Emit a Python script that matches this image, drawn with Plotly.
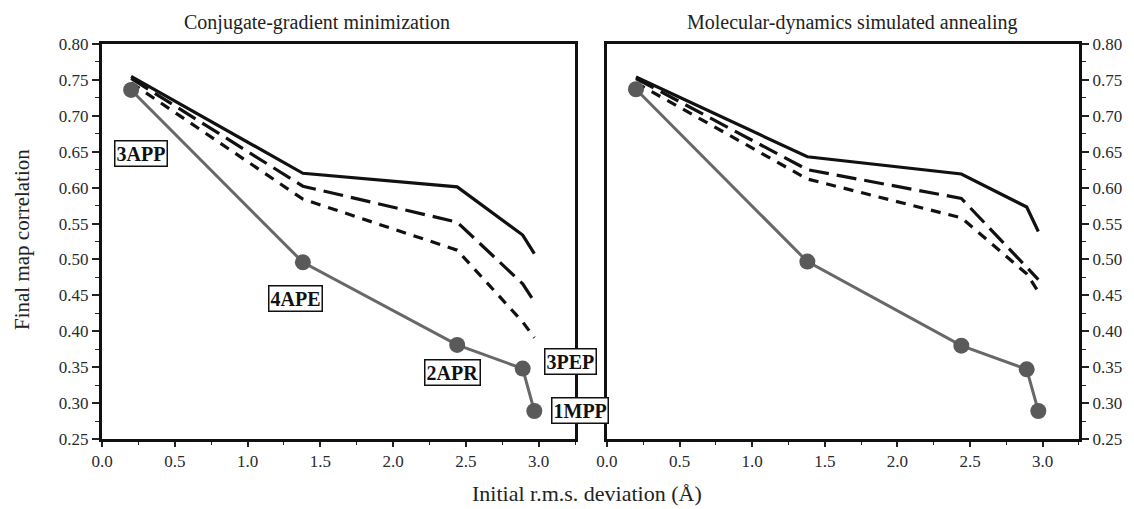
import plotly.graph_objects as go

# ---- data ----
rmsd = [0.20, 1.38, 2.44, 2.89, 2.97]
proteins = ["3APP", "4APE", "2APR", "3PEP", "1MPP"]

cg_model = [0.736, 0.496, 0.381, 0.348, 0.289]
cg_solid = [0.755, 0.620, 0.601, 0.534, 0.508]
cg_long = [0.752, 0.602, 0.552, 0.466, 0.441]
cg_short = [0.746, 0.584, 0.513, 0.413, 0.391]

md_model = [0.737, 0.497, 0.380, 0.347, 0.289]
md_solid = [0.754, 0.643, 0.619, 0.573, 0.539]
md_long = [0.752, 0.625, 0.585, 0.490, 0.472]
md_short = [0.746, 0.612, 0.558, 0.480, 0.455]

label_x = [0.27, 1.33, 2.41, 3.22, 3.24]
label_y = [0.647, 0.445, 0.342, 0.358, 0.289]

panel_titles = ["Conjugate-gradient minimization", "Molecular-dynamics simulated annealing"]
x_ticks = [0.0, 0.5, 1.0, 1.5, 2.0, 2.5, 3.0]
y_ticks = [0.25, 0.30, 0.35, 0.40, 0.45, 0.50, 0.55, 0.60, 0.65, 0.70, 0.75, 0.80]

FONT = "Liberation Serif"
GRAY_LINE = "#686868"
GRAY_MARK = "#5a5a5a"
BLACK = "#111111"

fig = go.Figure()

def add_panel(xa, ya, model, solid, longd, shortd):
    fig.add_trace(go.Scatter(x=rmsd, y=shortd, xaxis=xa, yaxis=ya, mode="lines",
                             line=dict(color=BLACK, width=3.2, dash="10px,8px"), showlegend=False))
    fig.add_trace(go.Scatter(x=rmsd, y=longd, xaxis=xa, yaxis=ya, mode="lines",
                             line=dict(color=BLACK, width=3.2, dash="20px,8px"), showlegend=False))
    fig.add_trace(go.Scatter(x=rmsd, y=solid, xaxis=xa, yaxis=ya, mode="lines",
                             line=dict(color=BLACK, width=3.2), showlegend=False))
    fig.add_trace(go.Scatter(x=rmsd, y=model, xaxis=xa, yaxis=ya, mode="lines+markers",
                             line=dict(color=GRAY_LINE, width=3),
                             marker=dict(color=GRAY_MARK, size=16), showlegend=False))

add_panel("x", "y", cg_model, cg_solid, cg_long, cg_short)
add_panel("x2", "y2", md_model, md_solid, md_long, md_short)

# page has an 8px body offset; figure sized to fill the rest of the window
OFF = 8
W, H = 1134 - OFF, 509 - OFF
ml, mr, mt, mb = 102 - OFF, 1134 - 1085, 44 - OFF, 509 - 439
pw = W - ml - mr
ph = H - mt - mb
d1 = (578 - 102) / pw
d2 = (610 - 102) / pw

def px_to_paper_x(px):
    return (px - 102) / pw

tickfont = dict(family=FONT, size=17, color="#2a2a2a")
common_x = dict(range=[0, 3.25], tickvals=x_ticks, tickformat=".1f", ticks="outside",
                ticklen=5, tickwidth=1.5, tickcolor="#222", showline=True, linewidth=3,
                linecolor=BLACK, mirror=True, showgrid=False, zeroline=False,
                tickfont=tickfont,
                minor=dict(dtick=0.25, ticks="outside", ticklen=3, tickwidth=1.2, tickcolor="#222"))
common_y = dict(range=[0.25, 0.80], tickvals=y_ticks, tickformat=".2f", ticks="outside",
                ticklen=7, tickwidth=1.5, tickcolor="#222", showline=True, linewidth=3,
                linecolor=BLACK, mirror=True, showgrid=False, zeroline=False,
                tickfont=tickfont,
                minor=dict(dtick=0.025, tick0=0.25, ticks="outside", ticklen=4, tickwidth=1.2, tickcolor="#222"))

fig.update_layout(
    width=W, height=H,
    margin=dict(l=ml, r=mr, t=mt, b=mb),
    paper_bgcolor="white", plot_bgcolor="white",
    xaxis=dict(domain=[0, d1], anchor="y", **common_x),
    yaxis=dict(domain=[0, 1], anchor="x", side="left", **common_y),
    xaxis2=dict(domain=[d2, 1], anchor="y2", **common_x),
    yaxis2=dict(domain=[0, 1], anchor="x2", side="right", **common_y),
)

annotations = []
for xr, yr, txt in zip(label_x, label_y, proteins):
    annotations.append(dict(x=xr, y=yr, xref="x", yref="y", text=txt, showarrow=False,
                            xanchor="center", yanchor="middle",
                            xshift=(6 if txt == "1MPP" else 0),
                            font=dict(family=FONT, size=20, color="#111", weight="bold"),
                            bgcolor="white", bordercolor=BLACK, borderwidth=1.5, borderpad=1))

title_centers = [318, 857]
for cx, t in zip(title_centers, panel_titles):
    annotations.append(dict(x=px_to_paper_x(cx), y=1, xref="paper", yref="paper", xanchor="center",
                            yanchor="middle", yshift=22,
                            text=t, showarrow=False,
                            font=dict(family=FONT, size=20, color="#222")))
annotations.append(dict(x=px_to_paper_x(590), y=0, xref="paper", yref="paper", xanchor="center",
                        yanchor="middle", yshift=-(493 - 439), text="Initial r.m.s. deviation (Å)",
                        showarrow=False, font=dict(family=FONT, size=22, color="#222")))
annotations.append(dict(x=0, y=(439 - 240) / ph, xref="paper", yref="paper",
                        xanchor="center", yanchor="middle", xshift=-(102 - 22), textangle=-90,
                        text="Final map correlation", showarrow=False,
                        font=dict(family=FONT, size=21, color="#222")))
fig.update_layout(annotations=annotations)

fig.write_html("out.html")
